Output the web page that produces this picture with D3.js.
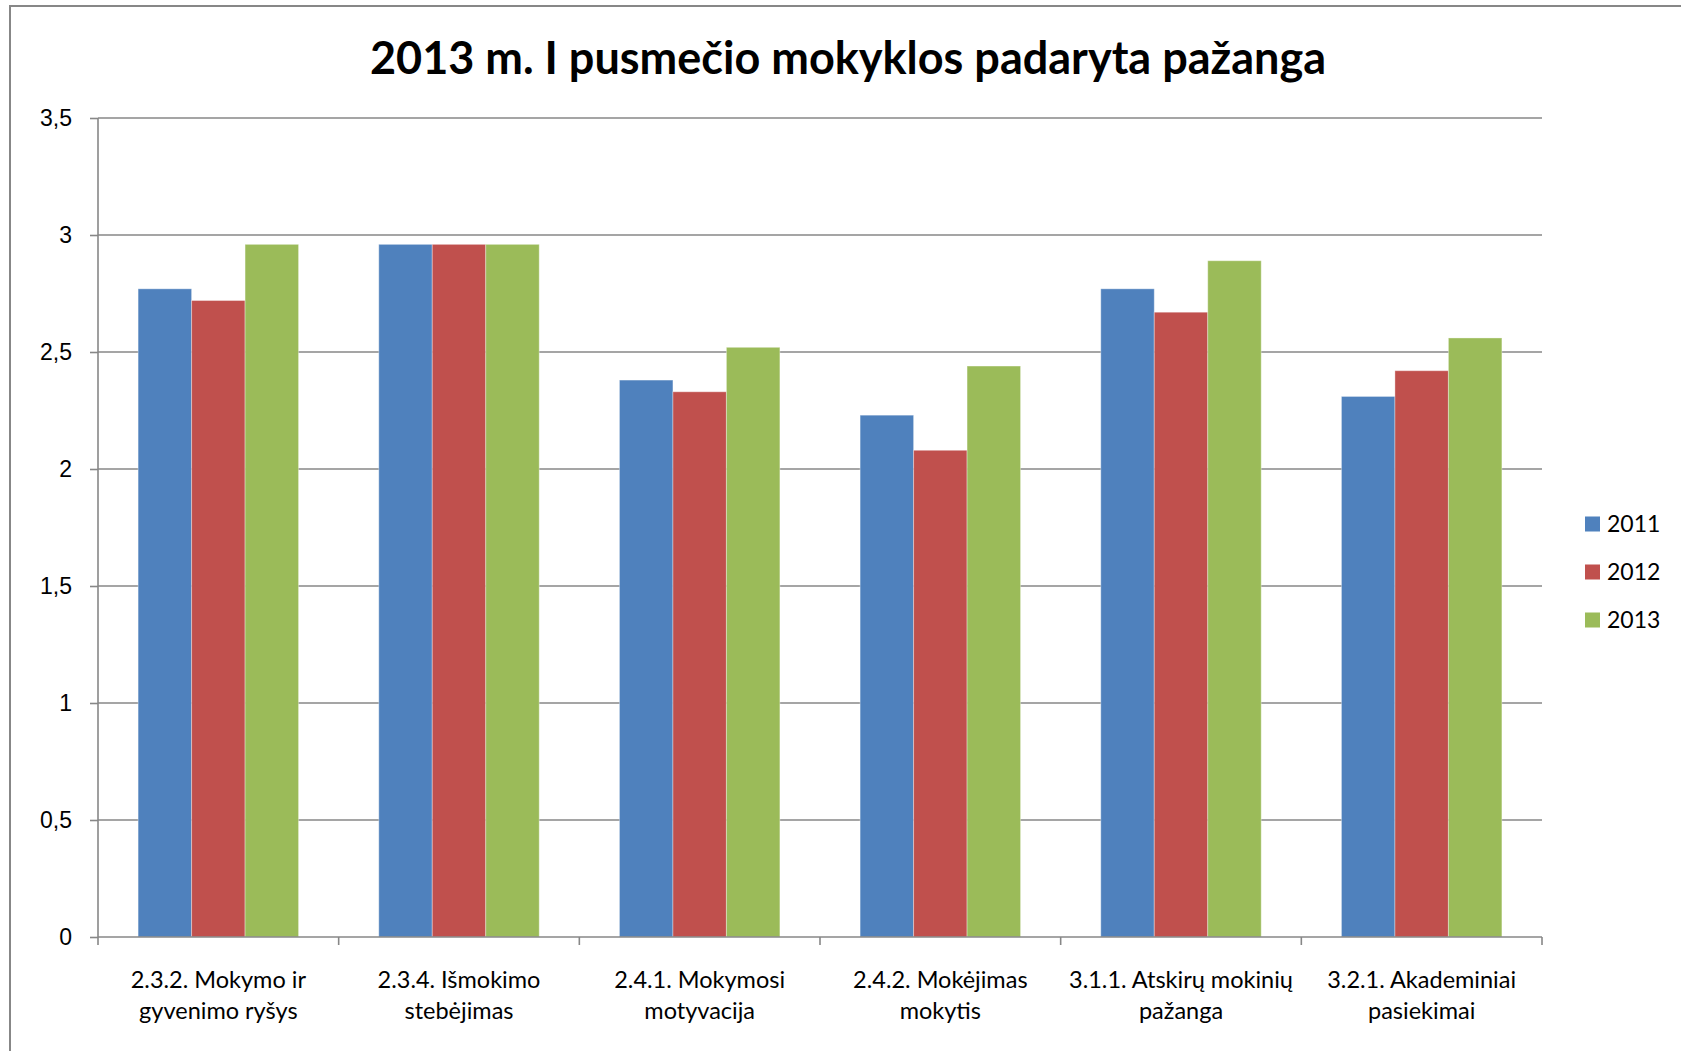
<!DOCTYPE html>
<meta charset="utf-8">
<style>
body { margin: 0; background: #fff; }
svg { display: block; font-family: Lato, "Open Sans", sans-serif; }
.grid line { stroke: #878787; stroke-width: 1.6; }
.axis path, .axis line { stroke: #878787; stroke-width: 1.6; }
.axis text { fill: #000; font-size: 23px; }
.axis .xlabel { font-size: 23.5px; }
</style>
<svg width="1681" height="1051"></svg>
<script src="https://d3js.org/d3.v7.min.js"></script>
<script>

// Data
var categories = [
  ["2.3.2. Mokymo ir", "gyvenimo ryšys"],
  ["2.3.4. Išmokimo", "stebėjimas"],
  ["2.4.1. Mokymosi", "motyvacija"],
  ["2.4.2. Mokėjimas", "mokytis"],
  ["3.1.1. Atskirų mokinių", "pažanga"],
  ["3.2.1. Akademiniai", "pasiekimai"]
];
var series = ["2011", "2012", "2013"];
var values2011 = [2.77, 2.96, 2.38, 2.23, 2.77, 2.31];
var values2012 = [2.72, 2.96, 2.33, 2.08, 2.67, 2.42];
var values2013 = [2.96, 2.96, 2.52, 2.44, 2.89, 2.56];
var yTicks = [0, 0.5, 1, 1.5, 2, 2.5, 3, 3.5];
var colors = ["#4F81BD", "#C0504D", "#9BBB59"];
var title = "2013 m. I pusmečio mokyklos padaryta pažanga";

var allValues = [values2011, values2012, values2013];
var catKeys = categories.map(function(c) { return c.join(" "); });

var svg = d3.select("svg");

var margin = {left: 98, right: 1542, top: 118, bottom: 937};

// outer chart border
svg.append("rect")
    .attr("x", 10).attr("y", 6)
    .attr("width", 1700).attr("height", 1100)
    .attr("fill", "none")
    .attr("stroke", "#878787")
    .attr("stroke-width", 2);

// Scales
var x0 = d3.scaleBand()
    .domain(catKeys)
    .range([margin.left, margin.right])
    .paddingInner(1 / 3)
    .paddingOuter(1 / 6);

var x1 = d3.scaleBand()
    .domain(series)
    .range([0, x0.bandwidth()]);

var y = d3.scaleLinear()
    .domain([0, 3.5])
    .range([margin.bottom, margin.top]);

var color = d3.scaleOrdinal().domain(series).range(colors);

// Gridlines
svg.append("g")
    .attr("class", "grid")
  .selectAll("line")
  .data(yTicks.filter(function(d) { return d > 0; }))
  .enter().append("line")
    .attr("x1", margin.left)
    .attr("x2", margin.right)
    .attr("y1", function(d) { return y(d); })
    .attr("y2", function(d) { return y(d); });

// Bars
var groups = svg.append("g")
  .selectAll("g")
  .data(catKeys)
  .enter().append("g")
    .attr("transform", function(d) { return "translate(" + x0(d) + ",0)"; });

groups.selectAll("rect")
  .data(function(d, i) {
    return series.map(function(s, j) { return {key: s, value: allValues[j][i]}; });
  })
  .enter().append("rect")
    .attr("x", function(d) { return x1(d.key); })
    .attr("width", x1.bandwidth())
    .attr("y", function(d) { return y(d.value); })
    .attr("height", function(d) { return y(0) - y(d.value); })
    .attr("fill", function(d) { return color(d.key); })
    .attr("stroke", "rgba(255,255,255,0.35)")
    .attr("stroke-width", 1);

// Y axis
svg.append("g")
    .attr("class", "axis")
    .attr("transform", "translate(" + margin.left + ",0)")
    .call(d3.axisLeft(y)
      .tickValues(yTicks)
      .tickSize(8)
      .tickPadding(18)
      .tickFormat(function(d) { return String(d).replace(".", ","); }))
  .select(".domain")
    .attr("d", "M0," + margin.top + "V" + margin.bottom);

// X axis: ticks at category boundaries
var step = x0.step();
var boundaries = d3.range(catKeys.length + 1).map(function(i) { return margin.left + i * step; });

var xAxis = svg.append("g").attr("class", "axis");
xAxis.append("line")
    .attr("x1", margin.left).attr("x2", margin.right)
    .attr("y1", y(0)).attr("y2", y(0));
xAxis.selectAll(".xtick")
  .data(boundaries)
  .enter().append("line")
    .attr("class", "xtick")
    .attr("x1", function(d) { return d; })
    .attr("x2", function(d) { return d; })
    .attr("y1", y(0))
    .attr("y2", y(0) + 8);

var labels = xAxis.selectAll(".xlabel")
  .data(categories)
  .enter().append("text")
    .attr("class", "xlabel")
    .attr("text-anchor", "middle")
    .attr("x", function(d, i) { return x0(catKeys[i]) + x0.bandwidth() / 2; })
    .attr("y", 988);

labels.selectAll("tspan")
  .data(function(d) { return d; })
  .enter().append("tspan")
    .attr("x", function() { return d3.select(this.parentNode).attr("x"); })
    .attr("dy", function(d, i) { return i ? 31 : 0; })
    .text(function(d) { return d; });

// Title
svg.append("text")
    .attr("x", 848)
    .attr("y", 74)
    .attr("text-anchor", "middle")
    .attr("font-size", 45)
    .attr("font-weight", "bold")
    .text(title);

// Legend
var legend = svg.append("g")
  .selectAll("g")
  .data(series)
  .enter().append("g")
    .attr("transform", function(d, i) { return "translate(1585," + (524 + i * 48) + ")"; });

legend.append("rect")
    .attr("x", 0).attr("y", -7.5)
    .attr("width", 15).attr("height", 15)
    .attr("fill", function(d) { return color(d); });

legend.append("text")
    .attr("x", 22)
    .attr("dy", "0.36em")
    .attr("font-size", 23)
    .text(function(d) { return d; });

</script>
